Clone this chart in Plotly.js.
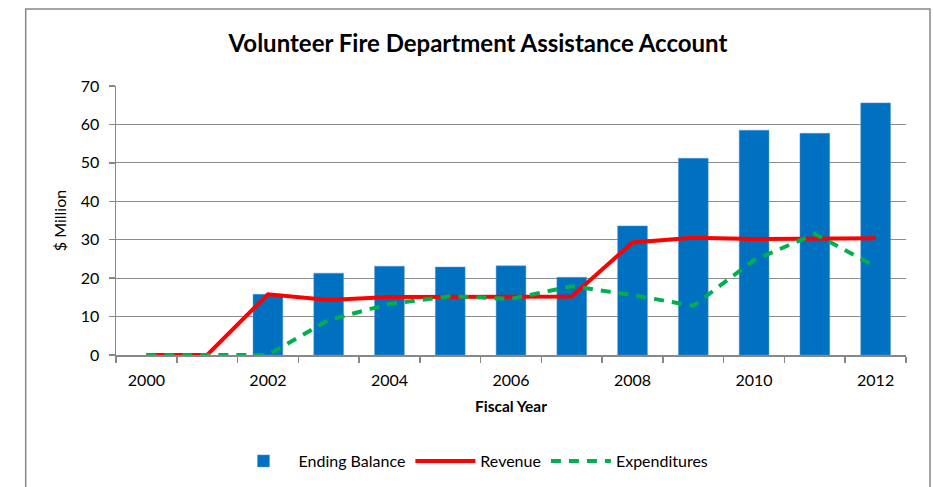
<!DOCTYPE html>
<html>
<head>
<meta charset="utf-8">
<script src="https://cdn.plot.ly/plotly-3.0.1.min.js"></script>
<style>html,body{margin:0;padding:0;background:#fff;}#chart{width:933px;height:487px;}</style>
</head>
<body>
<div id="chart"></div>
<script>
const years = [2000, 2001, 2002, 2003, 2004, 2005, 2006, 2007, 2008, 2009, 2010, 2011, 2012];
const endingBalance = [null, null, 15.8, 21.3, 23.1, 22.9, 23.2, 20.2, 33.6, 51.2, 58.5, 57.7, 65.6];
const revenue = [0, 0, 15.8, 14.3, 15.1, 15.1, 15.0, 15.2, 29.3, 30.5, 30.2, 30.2, 30.4];
const expenditures = [0, 0, 0, 9.1, 13.3, 15.3, 14.6, 17.9, 15.6, 12.8, 24.7, 31.5, 23.0];
const xTickLabels = ['2000', '2002', '2004', '2006', '2008', '2010', '2012'];
const xTickVals = xTickLabels.map(Number);

const FONT = 'Lato, "Open Sans", sans-serif';

const traces = [
  {
    type: 'bar', name: 'Ending Balance', x: years, y: endingBalance,
    marker: {color: '#0070C0', line: {color: '#5B9BD5', width: 0.5}},
    width: 0.49
  },
  {
    type: 'scatter', mode: 'lines', name: 'Revenue', x: years, y: revenue,
    line: {color: '#FF0000', width: 4}
  },
  {
    type: 'scatter', mode: 'lines', name: 'Expenditures', x: years, y: expenditures,
    line: {color: '#00B050', width: 4, dash: '10px,8px'}
  }
];

const layout = {
  width: 933, height: 487,
  margin: {l: 116, r: 27, t: 86, b: 132, autoexpand: false},
  paper_bgcolor: '#fff', plot_bgcolor: '#fff',
  font: {family: FONT, size: 15, color: '#000'},
  title: {
    text: '<b>Volunteer Fire Department Assistance Account</b>',
    font: {family: FONT, size: 24, color: '#000'},
    xref: 'paper', x: (478 - 116) / 790, xanchor: 'center',
    yref: 'container', y: 1 - 44 / 487, yanchor: 'middle'
  },
  xaxis: {
    range: [1999.5, 2012.5], automargin: false,
    tickmode: 'array', tickvals: xTickVals, ticktext: xTickLabels,
    ticks: '', showgrid: false,
    showline: true, linecolor: '#888', linewidth: 1.5,
    tickfont: {family: FONT, size: 16, color: '#000'},
    ticklabelstandoff: 10,
    minor: {tickmode: 'linear', tick0: 1999.5, dtick: 1, ticks: 'outside', ticklen: 6, tickcolor: '#888', tickwidth: 1.5, showgrid: false},
    title: {text: '<b>Fiscal Year</b>', font: {family: FONT, size: 15.5, color: '#000'}, standoff: 13},
    zeroline: false, fixedrange: true
  },
  yaxis: {
    range: [0, 70], dtick: 10, tick0: 0, automargin: false,
    ticks: 'outside', ticklen: 6, tickcolor: '#888', tickwidth: 1.5,
    showgrid: true, gridcolor: '#8c8c8c', gridwidth: 1.2,
    showline: true, linecolor: '#888', linewidth: 1.5,
    tickfont: {family: FONT, size: 16, color: '#000'},
    ticklabelstandoff: 6,
    title: {text: '$ Million', font: {family: FONT, size: 16, color: '#000'}, standoff: 10},
    zeroline: false, fixedrange: true
  },
  legend: {
    orientation: 'h', x: (471 - 116) / 790, xanchor: 'center',
    y: -(461 - 355) / 269, yanchor: 'middle',
    font: {family: FONT, size: 16, color: '#000'},
    itemwidth: 60, traceorder: 'normal', tracegroupgap: 0
  },
  showlegend: true,
  bargap: 0.5,
  shapes: [{
    type: 'rect', xref: 'paper', yref: 'paper',
    x0: (25.7 - 116) / 790, x1: (930 - 116) / 790,
    y0: (355 - 500) / 269, y1: (355 - 9) / 269,
    line: {color: '#888', width: 1.5}, layer: 'below'
  }]
};

Plotly.newPlot('chart', traces, layout, {displayModeBar: false, staticPlot: true});
</script>
</body>
</html>
